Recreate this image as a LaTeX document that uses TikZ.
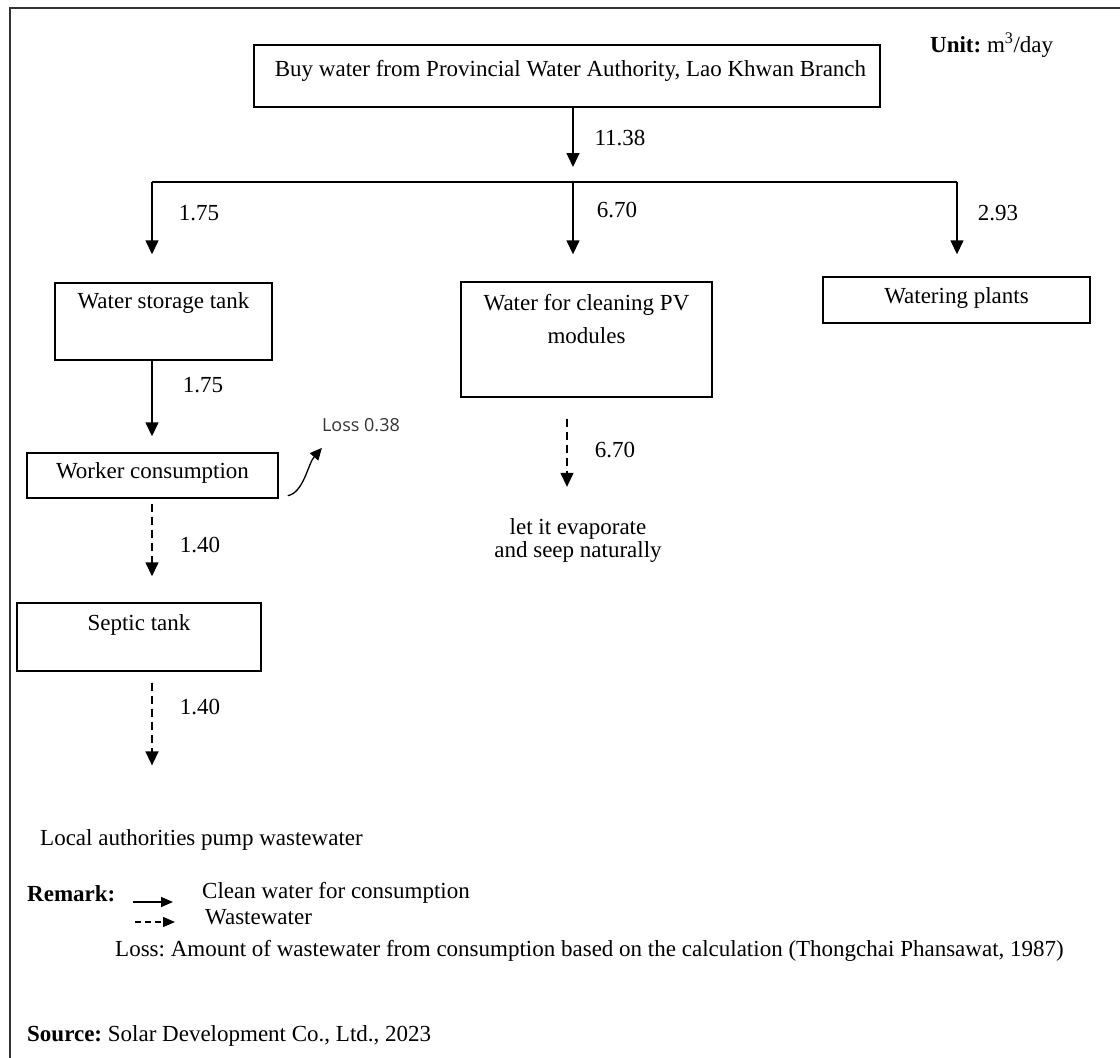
\documentclass[tikz,border=0pt]{standalone}
\usepackage{fontspec}
\setmainfont{Liberation Serif}
\newfontfamily\lossfont{Open Sans}
\usetikzlibrary{arrows.meta,calc}
\frenchspacing

\begin{document}
\begin{tikzpicture}
  [x=1pt,y=-1pt,
   every node/.style={inner sep=0pt,font=\fontsize{23}{26}\selectfont},
   box/.style={draw,line width=1.4pt},
   flow/.style={line width=1.4pt,-{Triangle[length=14pt,width=13pt]}},
   waste/.style={flow,dash pattern=on 8pt off 5pt},
   key/.style={line width=1.3pt,-{Triangle[length=12pt,width=10pt]}}]

  \useasboundingbox (0,0) rectangle (1120,1058);
  \draw [line width=2.2pt,black!80] (1120,8) -| (10,1058);

  % boxes
  \node [box,minimum width=626,minimum height=62] (buy) at (567,76) {};
  \node [box,minimum width=217,minimum height=77] (tank) at (163.5,321.5) {};
  \node [box,minimum width=251,minimum height=115] (pv) at (586.5,339.5) {};
  \node [box,minimum width=267,minimum height=46] (plants) at (956.5,300) {};
  \node [box,minimum width=251,minimum height=45] (worker) at (152.5,475.5) {};
  \node [box,minimum width=244,minimum height=68] (septic) at (139,637) {};

  % box texts
  \node (buytxt) at (570.5,71) {Buy water from Provincial Water Authority, Lao Khwan Branch};
  \node (tanktxt) at (163.5,303) {Water storage tank};
  \node [align=center,font=\fontsize{23}{33}\selectfont] (pvtxt) at (586.5,319) {Water for cleaning PV\\modules};
  \node (plantstxt) at (956.5,298) {Watering plants};
  \node (workertxt) at (152.5,473) {Worker consumption};
  \node (septictxt) at (139,625) {Septic tank};

  % other texts
  \node [anchor=west] (unit) at (930,45) {\textbf{Unit:} m\textsuperscript{3}/day};
  \node [align=center,font=\fontsize{23}{23}\selectfont] (evap) at (578,540) {let it evaporate\\and seep naturally};
  \node [anchor=west] (local) at (40,840) {Local authorities pump wastewater};
  \node [font=\lossfont\fontsize{18}{20}\selectfont,text=black!80] (loss) at (361,425) {Loss 0.38};

  % amounts
  \node (q0) at (620,138) {11.38};
  \node (q1) at (199,213) {1.75};
  \node (q2) at (617,210) {6.70};
  \node (q3) at (998,213) {2.93};
  \node (q4) at (203,385) {1.75};
  \node (q5) at (200,545) {1.40};
  \node (q6) at (200,707) {1.40};
  \node (q7) at (615,450) {6.70};

  % flows
  \coordinate (brL) at (152,182);
  \coordinate (brM) at (573,182);
  \coordinate (brR) at (957,182);
  \draw [flow,shorten >=15pt] (buy.south -| brM) -- (brM);
  \draw [line width=1.4pt] (brL) -- (brR);
  \foreach \col/\dest/\gap in {brL/tank/28,brM/pv/27,brR/plants/22}
    \draw [flow,shorten >=\gap pt] (\col) -- (\col |- \dest.north);
  \draw [flow,shorten >=16pt] (tank.south -| brL) -- (worker.north -| brL);
  \draw [waste,shorten <=5pt,shorten >=26pt] (worker.south -| brL) -- (septic.north -| brL);
  \draw [waste,shorten <=11pt,shorten >=64pt] (septic.south -| brL) -- (local.north -| brL);
  \draw [waste,shorten <=21pt,shorten >=31pt] ([xshift=-19.5pt]pv.south) -- ([xshift=-11pt]evap.north);
  \draw [line width=1.3pt,-{Triangle[length=12pt,width=11pt]}]
    ($(worker.south east)+(9,-3)$) .. controls +(16,-3) and +(-14,16) .. ($(loss.south west)+(0,16)$);

  % remark
  \node [anchor=west] (remark) at (27,894) {\textbf{Remark:}};
  \node [anchor=west] (clean) at (202,893) {Clean water for consumption};
  \node [anchor=west] (wwater) at (205,917) {Wastewater};
  \draw [key] (133,902) -- (173,902);
  \draw [key,dash pattern=on 6pt off 4pt] (135,922) -- (175,922);
  \node [anchor=west] (lossnote) at (115,951) {Loss: Amount of wastewater from consumption based on the calculation (Thongchai Phansawat, 1987)};
  \node [anchor=west] (source) at (27,1036) {\textbf{Source:} Solar Development Co., Ltd., 2023};
\end{tikzpicture}
\end{document}
